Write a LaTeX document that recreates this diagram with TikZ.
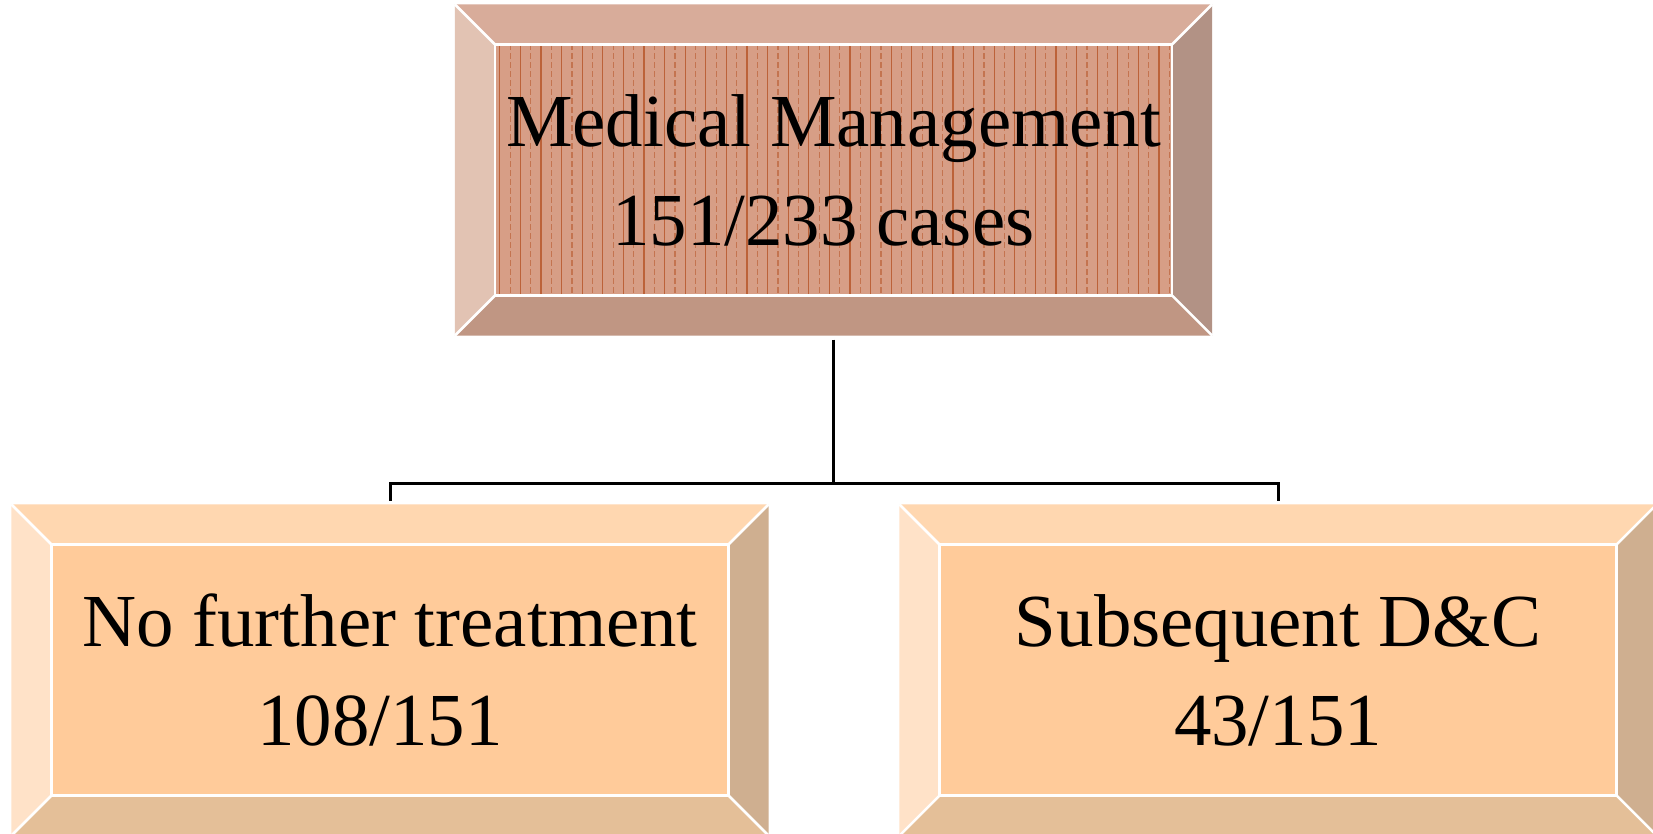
\documentclass[tikz,border=0pt]{standalone}
\usepackage{fontspec}
\setmainfont{Liberation Serif}
\usetikzlibrary{calc}
\definecolor{tTop}{HTML}{D8AC9A}
\definecolor{tLeft}{HTML}{E2C3B3}
\definecolor{tIn}{HTML}{D79E86}
\definecolor{tRight}{HTML}{B29285}
\definecolor{tBot}{HTML}{C09683}
\definecolor{tStripe}{HTML}{B8582C}
\definecolor{bTop}{HTML}{FFD7B0}
\definecolor{bLeft}{HTML}{FFE2C8}
\definecolor{bIn}{HTML}{FFCB9A}
\definecolor{bRight}{HTML}{CFAF90}
\definecolor{bBot}{HTML}{E4BF98}
\tikzset{
  bevelbox/.style={rectangle, draw=none, inner sep=0pt, align=center,
    minimum width=75.6mm, minimum height=33mm,
    font=\fontsize{21.3}{28.2}\selectfont},
  conn/.style={draw=black, line width=0.3mm},
  sep/.style={draw=white, line width=0.25mm}
}
\newcommand{\trail}{\rule{0.27em}{0pt}}
% #1 node name, #2 top, #3 left, #4 right, #5 bottom, #6 inner
\newcommand{\mybevel}[6]{%
  \coordinate (#1-onw) at (#1.north west);
  \coordinate (#1-one) at (#1.north east);
  \coordinate (#1-ose) at (#1.south east);
  \coordinate (#1-osw) at (#1.south west);
  \coordinate (#1-inw) at ($(#1.north west)+(40,40)$);
  \coordinate (#1-ine) at ($(#1.north east)+(-40,40)$);
  \coordinate (#1-ise) at ($(#1.south east)+(-40,-40)$);
  \coordinate (#1-isw) at ($(#1.south west)+(40,-40)$);
  \fill[#6] (#1-inw) rectangle (#1-ise);
  \fill[#2] (#1-onw) -- (#1-one) -- (#1-ine) -- (#1-inw) -- cycle;
  \fill[#3] (#1-onw) -- (#1-inw) -- (#1-isw) -- (#1-osw) -- cycle;
  \fill[#4] (#1-one) -- (#1-ose) -- (#1-ise) -- (#1-ine) -- cycle;
  \fill[#5] (#1-osw) -- (#1-isw) -- (#1-ise) -- (#1-ose) -- cycle;
}
\newcommand{\myedges}[1]{%
  \draw[sep] (#1-inw) rectangle (#1-ise);
  \draw[sep] (#1-onw) -- (#1-inw);
  \draw[sep] (#1-one) -- (#1-ine);
  \draw[sep] (#1-ose) -- (#1-ise);
  \draw[sep] (#1-osw) -- (#1-isw);
}
\begin{document}
\begin{tikzpicture}[x=0.1mm, y=-0.1mm]
\useasboundingbox (0,0) rectangle (1653,834);
\fill[white] (0,0) rectangle (1653,834);
\path (833.5,170) node[bevelbox] (top) {\phantom{M}};
\path (390,670) node[bevelbox] (left) {\phantom{M}};
\path (1278,670) node[bevelbox] (right) {\phantom{M}};
\mybevel{top}{tTop}{tLeft}{tRight}{tBot}{tIn}
\begin{scope}
  \clip (top-inw) rectangle (top-ise);
  \foreach \i in {0,...,33} {
    \draw[tStripe, line width=0.12mm, opacity=0.85]
      ($(top-inw)+(5+20.6*\i,0)$) -- ++(0,260);
    \draw[tStripe, line width=0.12mm, opacity=0.6, dash pattern=on 0.6mm off 0.3mm]
      ($(top-inw)+(15.3+20.6*\i,0)$) -- ++(0,260);
  }
\end{scope}
\myedges{top}
\mybevel{left}{bTop}{bLeft}{bRight}{bBot}{bIn}
\myedges{left}
\mybevel{right}{bTop}{bLeft}{bRight}{bBot}{bIn}
\myedges{right}
\node[bevelbox] at (top) {Medical Management\\151/233 cases\trail};
\node[bevelbox] at (left) {No further treatment\\108/151\trail};
\node[bevelbox] at (right) {Subsequent D\&C\\43/151};
\coordinate (split) at ($(top.south)+(0,148)$);
\draw[conn, shorten <=0.4mm] (top.south) -- (split);
\draw[conn, shorten >=0.3mm] (split) -| (left.north);
\draw[conn, shorten >=0.3mm] (split) -| (right.north);
\end{tikzpicture}
\end{document}
